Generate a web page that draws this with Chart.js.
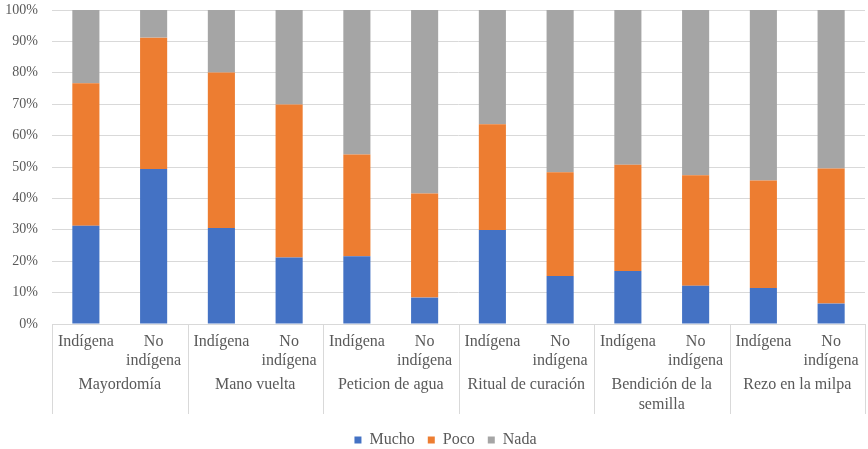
<!DOCTYPE html>
<html lang="es">
<head>
<meta charset="UTF-8">
<title>Participación en prácticas comunitarias</title>
<script src="https://cdn.jsdelivr.net/npm/chart.js@4.4.0/dist/chart.umd.min.js"></script>
<style>
    html, body { margin: 0; padding: 0; background: #fff; }
    #wrap { width: 868px; height: 449px; }
</style>
</head>
<body>
<div id="wrap"><canvas id="chart"></canvas></div>

<script>
// Prácticas y grupos
const groups = ['Mayordomía', 'Mano vuelta', 'Peticion de agua', 'Ritual de curación', ['Bendición de la', 'semilla'], 'Rezo en la milpa'];
const subLabels = ['Indígena', ['No', 'indígena']];
const yTicks = [0, 10, 20, 30, 40, 50, 60, 70, 80, 90, 100];

// Porcentajes por barra (Indígena / No indígena, en el orden de groups)
const mucho = [31.3, 49.4, 30.6, 21.2, 21.6, 8.4, 29.9, 15.3, 16.9, 12.2, 11.5, 6.5];
const poco  = [45.4, 41.8, 49.5, 48.7, 32.4, 33.2, 33.7, 33.0, 33.8, 35.2, 34.2, 43.0];
const nada  = [23.3, 8.8, 19.9, 30.1, 46.0, 58.4, 36.4, 51.7, 49.3, 52.6, 54.3, 50.5];

const labels = [];
groups.forEach(() => subLabels.forEach(s => labels.push(s)));

const FONT = "'Liberation Serif', 'Times New Roman', serif";
const TEXT = '#595959';
const LINE = '#d9d9d9';

// lineas verticales que separan cada practica bajo el eje
const groupSeparators = {
    id: 'groupSeparators',
    afterLayout(chart) {
        // la leyenda va un poco a la derecha del centro
        chart.legend.left += 11;
        chart.legend.right += 11;
    },
    afterDraw(chart) {
        const x = chart.scales.x;
        const ctx = chart.ctx;
        const top = chart.chartArea.bottom;
        const bottom = top + 90;
        const xs = [x.left];
        for (let g = 1; g < groups.length; g++) {
            xs.push((x.getPixelForValue(g * 2 - 1) + x.getPixelForValue(g * 2)) / 2);
        }
        xs.push(x.right);
        ctx.save();
        ctx.strokeStyle = LINE;
        ctx.lineWidth = 1;
        xs.forEach(px => {
            const p = Math.round(px) + 0.5;
            ctx.beginPath();
            ctx.moveTo(p, top);
            ctx.lineTo(p, bottom);
            ctx.stroke();
        });
        ctx.restore();
    }
};

new Chart(document.getElementById('chart'), {
    type: 'bar',
    data: {
        labels: labels,
        datasets: [
            { label: 'Mucho', data: mucho, backgroundColor: '#4472c4' },
            { label: 'Poco', data: poco, backgroundColor: '#ed7d31' },
            { label: 'Nada', data: nada, backgroundColor: '#a5a5a5' }
        ]
    },
    options: {
        responsive: true,
        maintainAspectRatio: false,
        animation: false,
        datasets: { bar: { barPercentage: 0.4, categoryPercentage: 1, borderWidth: 0 } },
        layout: { padding: { top: 10, right: 3, left: 4, bottom: -9 } },
        plugins: {
            tooltip: { enabled: false },
            legend: {
                position: 'bottom',
                labels: {
                    boxWidth: 7,
                    boxHeight: 7,
                    padding: 13,
                    color: TEXT,
                    font: { family: FONT, size: 16 }
                }
            }
        },
        scales: {
            x: {
                stacked: true,
                grid: { display: false, drawTicks: false, tickLength: 0 },
                border: { display: true, color: LINE },
                afterFit(scale) { scale.height = 46; },
                ticks: {
                    autoSkip: false,
                    maxRotation: 0,
                    padding: 8,
                    color: TEXT,
                    font: { family: FONT, size: 16, lineHeight: 1.2 }
                }
            },
            x2: {
                type: 'category',
                labels: groups,
                offset: true,
                position: 'bottom',
                grid: { display: false, drawTicks: false, tickLength: 0 },
                border: { display: false },
                afterFit(scale) { scale.height = 49; },
                ticks: {
                    autoSkip: false,
                    maxRotation: 0,
                    padding: 5,
                    color: TEXT,
                    font: { family: FONT, size: 16, lineHeight: 1.25 }
                }
            },
            y: {
                stacked: true,
                min: 0,
                max: 100,
                afterBuildTicks(scale) { scale.ticks = yTicks.map(v => ({ value: v })); },
                afterFit(scale) {
                    scale.width = 48;
                    scale.paddingTop = 0;
                    scale.paddingBottom = 0;
                },
                grid: { color: LINE, drawTicks: false },
                border: { display: false },
                ticks: {
                    padding: 14,
                    color: TEXT,
                    font: { family: FONT, size: 14 },
                    callback: v => v + '%'
                }
            }
        }
    },
    plugins: [groupSeparators]
});
</script>
</body>
</html>
